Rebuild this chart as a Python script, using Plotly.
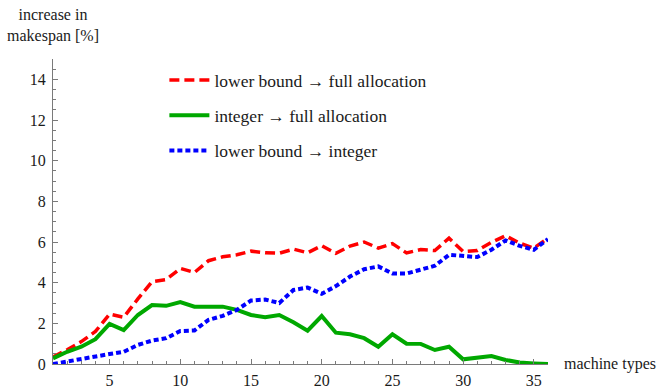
import plotly.graph_objects as go

# Number of machine types (x) and the relative makespan increase [%] for each comparison
machine_types = list(range(1, 37))

lb_to_full = [0.35, 0.70, 1.10, 1.60, 2.45, 2.30, 3.20, 4.05, 4.15, 4.70,
              4.50, 5.08, 5.27, 5.37, 5.55, 5.47, 5.45, 5.65, 5.47, 5.82,
              5.44, 5.80, 6.00, 5.70, 5.92, 5.46, 5.63, 5.58, 6.19, 5.53,
              5.58, 5.98, 6.31, 5.94, 5.70, 6.19]

int_to_full = [0.28, 0.60, 0.85, 1.22, 1.97, 1.67, 2.41, 2.90, 2.86, 3.05,
               2.82, 2.82, 2.82, 2.66, 2.41, 2.30, 2.41, 2.05, 1.64, 2.36,
               1.54, 1.46, 1.27, 0.85, 1.46, 1.00, 0.99, 0.69, 0.85, 0.23,
               0.33, 0.39, 0.20, 0.07, 0.03, 0.00]

lb_to_int = [0.00, 0.13, 0.28, 0.37, 0.49, 0.60, 0.94, 1.15, 1.27, 1.62,
             1.65, 2.17, 2.37, 2.66, 3.12, 3.17, 3.00, 3.64, 3.76, 3.45,
             3.83, 4.30, 4.66, 4.80, 4.45, 4.45, 4.62, 4.83, 5.37, 5.32,
             5.26, 5.62, 6.08, 5.81, 5.62, 6.14]

series_names = ["lower bound \u2192 full allocation",
                "integer \u2192 full allocation",
                "lower bound \u2192 integer"]

FONT = "Liberation Serif"
TEXT = "#1a1a1a"
AXIS_GREY = "#7a7a7a"

fig = go.Figure()
fig.add_trace(go.Scatter(x=machine_types, y=lb_to_full, mode="lines", name=series_names[0],
                         legendgroup="a",
                         line=dict(color="#ff0000", width=3.5, dash="10px,5px")))
fig.add_trace(go.Scatter(x=machine_types, y=int_to_full, mode="lines", name=series_names[1],
                         legendgroup="b",
                         line=dict(color="#00a800", width=4)))
fig.add_trace(go.Scatter(x=machine_types, y=lb_to_int, mode="lines", name=series_names[2],
                         legendgroup="c",
                         line=dict(color="#0000ff", width=4, dash="5px,3px")))

axis_common = dict(
    showgrid=False, zeroline=False, showline=True, linecolor=AXIS_GREY, linewidth=1,
    ticks="inside", ticklen=5, tickcolor=AXIS_GREY, tickwidth=1, automargin=False,
    tickfont=dict(family=FONT, size=16, color=TEXT),
)

fig.update_xaxes(range=[1, 36], tickvals=[5, 10, 15, 20, 25, 30, 35],
                 ticklabelstandoff=2,
                 minor=dict(dtick=1, tick0=0, ticks="inside", ticklen=3,
                            tickcolor=AXIS_GREY, tickwidth=1),
                 **axis_common)
fig.update_yaxes(range=[0, 15], tickvals=[0, 2, 4, 6, 8, 10, 12, 14],
                 ticklabelstandoff=3,
                 minor=dict(dtick=0.5, tick0=0, ticks="inside", ticklen=3,
                            tickcolor=AXIS_GREY, tickwidth=1),
                 **axis_common)

fig.update_layout(
    width=657, height=388,
    margin=dict(l=53, r=109, t=59, b=24, autoexpand=False),
    paper_bgcolor="white", plot_bgcolor="white",
    font=dict(family=FONT, size=16, color=TEXT),
    showlegend=True,
    legend=dict(x=0.225, y=0.99, xanchor="left", yanchor="top",
                bgcolor="rgba(0,0,0,0)", tracegroupgap=9.5,
                font=dict(family=FONT, size=17.5, color=TEXT),
                itemwidth=40),
    annotations=[
        dict(text="increase in<br>makespan [%]", xref="paper", yref="paper",
             x=0, y=1, xanchor="center", yanchor="bottom", yshift=12,
             showarrow=False, align="center",
             font=dict(family=FONT, size=16, color=TEXT)),
        dict(text="machine types", xref="paper", yref="paper",
             x=1, y=0, xanchor="left", yanchor="middle", xshift=14,
             showarrow=False,
             font=dict(family=FONT, size=16, color=TEXT)),
    ],
)

fig.write_html("out.html")
